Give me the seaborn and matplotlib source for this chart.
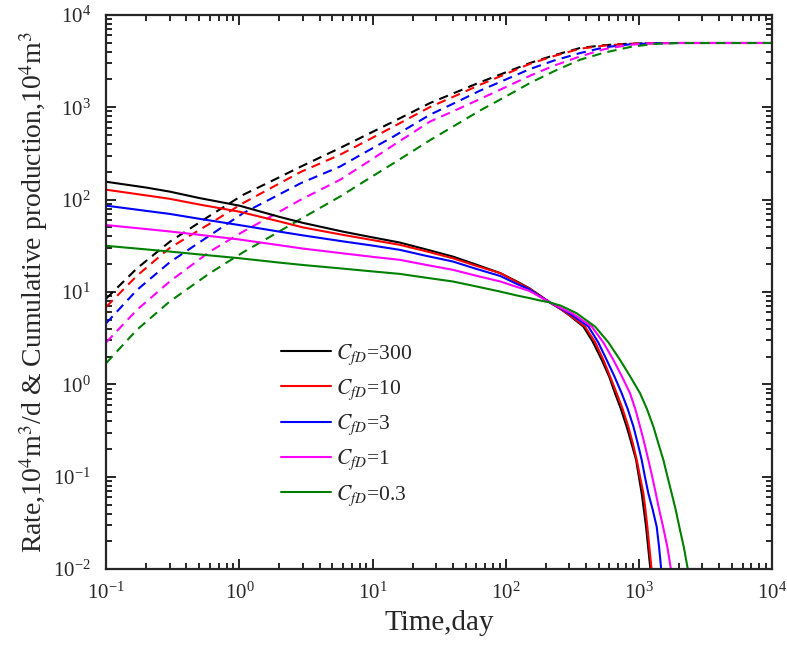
import numpy as np
import pandas as pd
import matplotlib
matplotlib.use("Agg")
import matplotlib.pyplot as plt
from matplotlib.ticker import FixedLocator, LogFormatterSciNotation, NullFormatter
import seaborn as sns

# ---- data -------------------------------------------------------------
cases = ["300", "10", "3", "1", "0.3"]
colors = ["#000000", "#ff0000", "#0000ff", "#ff00ff", "#008000"]

# production rate (10^4 m^3/d) before the curves meet near t = 215 d
t_rate_early = [0.1, 0.2, 0.3, 0.5, 1, 2, 3, 6, 10, 16, 25, 40, 60, 91, 120, 150, 180, 215]
q_early_300 = [156, 135, 122, 104, 86, 65, 56, 45, 39, 34.3, 29, 24.2, 19.8, 16, 13.1, 11, 9.2, 7.7]
q_early_10 = [128, 111, 102, 88.5, 74, 58, 50, 41.5, 36.5, 32.4, 27.7, 23.2, 19.2, 16, 12.9, 10.9, 9.1, 7.7]
q_early_3 = [86, 75.5, 70, 62, 53, 45, 41, 35.3, 31.8, 28.6, 24.7, 21.4, 17.8, 14.9, 12.3, 10.7, 9.0, 7.7]
q_early_1 = [53, 48, 45.2, 41.6, 37, 32.1, 29.5, 26.2, 24, 22.3, 19.7, 17.4, 15, 13, 11.4, 10.3, 8.9, 7.7]
q_early_03 = [31.6, 28.9, 27.4, 25.5, 23.2, 20.8, 19.6, 17.9, 16.7, 15.7, 14.3, 13, 11.5, 10.1, 9.2, 8.6, 8.1, 7.7]

# production rate during the final decline
t_late_300 = [260, 300, 383, 450, 526, 600, 662, 730, 809, 880, 953, 1000, 1050, 1090, 1132, 1180, 1220]
q_late_300 = [6.5, 5.6, 4.22, 2.9, 1.84, 1.2, 0.80, 0.55, 0.349, 0.23, 0.152, 0.1, 0.066, 0.044, 0.0287, 0.016, 0.01]
t_late_10 = [260, 300, 394, 470, 541, 610, 681, 755, 833, 900, 964, 1020, 1081, 1120, 1158, 1200, 1245]
q_late_10 = [6.5, 5.65, 4.22, 2.85, 1.84, 1.2, 0.80, 0.54, 0.349, 0.23, 0.152, 0.1, 0.066, 0.044, 0.0287, 0.017, 0.01]
t_late_3 = [260, 310, 418, 495, 573, 655, 743, 825, 910, 980, 1050, 1110, 1178, 1270, 1361, 1420, 1470]
q_late_3 = [6.6, 5.7, 4.22, 2.85, 1.84, 1.22, 0.80, 0.54, 0.349, 0.23, 0.152, 0.1, 0.066, 0.044, 0.0287, 0.017, 0.01]
t_late_1 = [260, 320, 443, 540, 643, 745, 858, 940, 1021, 1100, 1178, 1260, 1340, 1420, 1520, 1640, 1740]
q_late_1 = [6.7, 5.8, 4.22, 2.85, 1.84, 1.22, 0.80, 0.54, 0.349, 0.23, 0.152, 0.1, 0.066, 0.044, 0.0287, 0.017, 0.01]
t_late_03 = [260, 340, 469, 590, 722, 860, 1021, 1150, 1285, 1400, 1527, 1640, 1763, 1890, 2012, 2180, 2330]
q_late_03 = [7.1, 5.9, 4.22, 2.85, 1.84, 1.22, 0.80, 0.54, 0.349, 0.23, 0.152, 0.1, 0.066, 0.044, 0.0287, 0.017, 0.01]

# cumulative production, 10^4 m^3
t_cum = [0.1, 0.17, 0.3, 0.6, 1.07, 1.7, 2.9, 5.7, 9, 14.4, 27, 45, 64, 100,
         152, 230, 362, 550, 860, 1300, 2000, 10000]
cum_300 = [8.5, 18, 35, 67, 113, 156, 228, 362, 502, 702, 1110, 1506, 1860, 2385,
           3010, 3650, 4380, 4700, 4880, 4940, 4960, 4960]
cum_10 = [6.9, 15, 30, 55, 92, 132, 200, 306, 432, 619, 1005, 1390, 1750, 2286,
          2950, 3580, 4300, 4650, 4870, 4940, 4960, 4960]
cum_3 = [4.6, 10.5, 21, 41, 71.5, 101, 151, 228, 331, 483, 830, 1179, 1510, 1994,
         2590, 3200, 3860, 4450, 4800, 4930, 4960, 4960]
cum_1 = [2.85, 6.4, 13, 27.4, 45.2, 65, 100, 164, 250, 390, 700, 972, 1226, 1651,
         2190, 2820, 3550, 4250, 4750, 4920, 4960, 4960]
cum_03 = [1.7, 3.9, 7.9, 16, 27, 39.6, 62, 108, 163, 248, 440, 680, 920, 1306,
          1828, 2450, 3270, 3900, 4490, 4850, 4950, 4960]

rate_t = [t_rate_early + t for t in (t_late_300, t_late_10, t_late_3, t_late_1, t_late_03)]
rate_q = [e + l for e, l in zip(
    (q_early_300, q_early_10, q_early_3, q_early_1, q_early_03),
    (q_late_300, q_late_10, q_late_3, q_late_1, q_late_03))]
cum_q = [cum_300, cum_10, cum_3, cum_1, cum_03]

rate_df = pd.concat(
    [pd.DataFrame({"t": t, "q": q, "case": c}) for t, q, c in zip(rate_t, rate_q, cases)],
    ignore_index=True,
)
cum_df = pd.concat(
    [pd.DataFrame({"t": t_cum, "q": q, "case": c}) for q, c in zip(cum_q, cases)],
    ignore_index=True,
)

x_major = [1e-1, 1e0, 1e1, 1e2, 1e3, 1e4]
y_major = [1e-2, 1e-1, 1e0, 1e1, 1e2, 1e3, 1e4]

# ---- style ------------------------------------------------------------
sns.set_style("ticks")
plt.rcParams["font.family"] = ["Liberation Serif", "DejaVu Serif"]
plt.rcParams["mathtext.fontset"] = "stix"
plt.rcParams["axes.linewidth"] = 1.6

fig = plt.figure(figsize=(7.87, 6.46), dpi=100)
ax = fig.add_axes([0.135, 0.119, 0.846, 0.858])

palette = dict(zip(cases, colors))

# cumulative production: dashed
for c in cases:
    sub = cum_df[cum_df["case"] == c]
    sns.lineplot(data=sub, x="t", y="q", color=palette[c], estimator=None,
                 sort=False, linewidth=1.5, linestyle=(0, (4.5, 3.0)),
                 legend=False, ax=ax)

# rate: solid
solid_handles = []
for c in cases:
    sub = rate_df[rate_df["case"] == c]
    sns.lineplot(data=sub, x="t", y="q", color=palette[c], estimator=None,
                 sort=False, linewidth=1.5, legend=False, ax=ax)
    solid_handles.append(ax.lines[-1])

ax.set_xscale("log")
ax.set_yscale("log")
ax.set_xlim(x_major[0], x_major[-1])
ax.set_ylim(y_major[0], y_major[-1])


def minor_positions(majors):
    return [m * k for m in majors[:-1] for k in range(2, 10)]


ax.xaxis.set_major_locator(FixedLocator(x_major))
ax.yaxis.set_major_locator(FixedLocator(y_major))
ax.xaxis.set_minor_locator(FixedLocator(minor_positions(x_major)))
ax.yaxis.set_minor_locator(FixedLocator(minor_positions(y_major)))
for axis in (ax.xaxis, ax.yaxis):
    axis.set_major_formatter(LogFormatterSciNotation())
    axis.set_minor_formatter(NullFormatter())

ax.tick_params(which="both", direction="in", top=True, right=True, width=1.4)
ax.tick_params(which="major", length=7, labelsize=15)
ax.tick_params(which="minor", length=4)
ax.tick_params(axis="x", which="major", pad=10)
ax.tick_params(axis="y", which="major", pad=11)

ax.set_xlabel("Time,day", fontsize=21, labelpad=4)
ax.set_ylabel("Rate,10$^4$m$^3$/d & Cumulative production,10$^4$m$^3$",
              fontsize=20, labelpad=2)

labels = [r"$C_{fD}$=" + c for c in cases]
ax.legend(solid_handles, labels, loc="upper left", bbox_to_anchor=(0.25, 0.425),
          frameon=False, fontsize=15.5, handlelength=2.3, handletextpad=0.25,
          labelspacing=0.5, borderaxespad=0)

fig.savefig("out.png", dpi=100)
